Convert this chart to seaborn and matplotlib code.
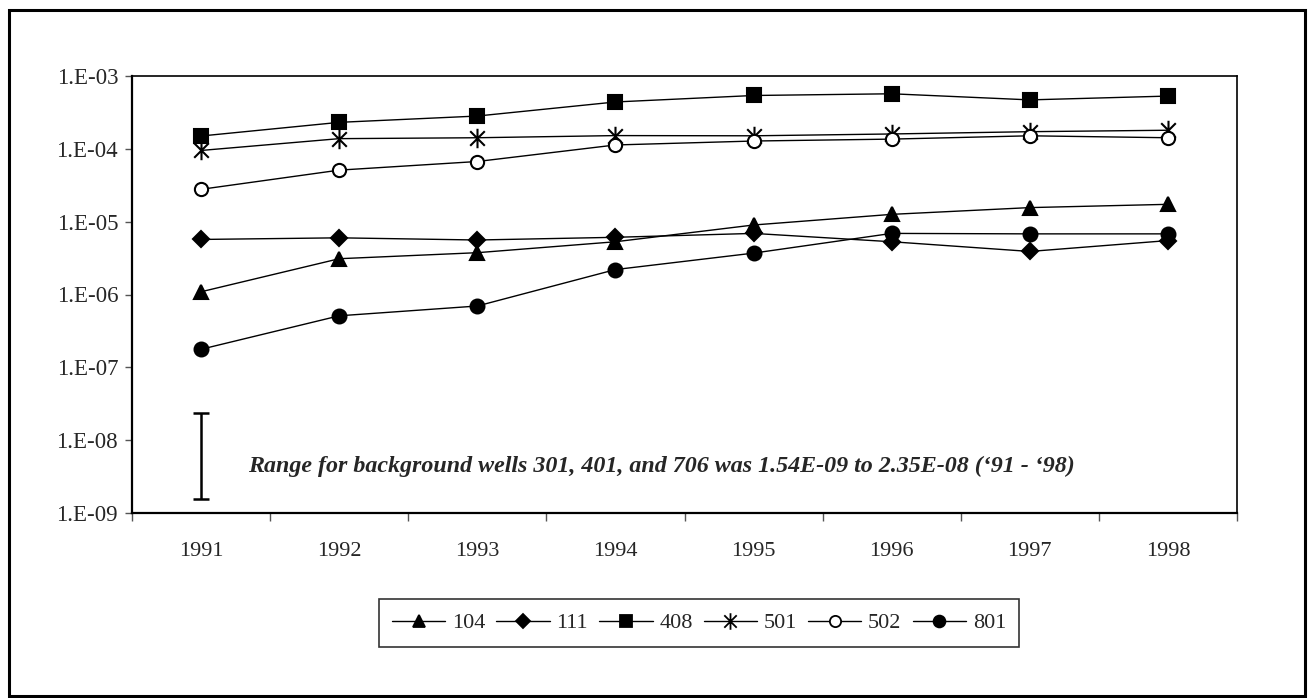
import numpy as np
import pandas as pd
import matplotlib
matplotlib.use("Agg")
import matplotlib.pyplot as plt
from matplotlib.patches import Rectangle
from matplotlib.lines import Line2D
from matplotlib.path import Path
from matplotlib import transforms
import seaborn as sns

# ---------------- DATA ---------------- #
years = [1991, 1992, 1993, 1994, 1995, 1996, 1997, 1998]
wells = ["104", "111", "408", "501", "502", "801"]

w104 = [1.09e-6, 3.1e-6, 3.75e-6, 5.3e-6, 9.0e-6, 1.26e-5, 1.56e-5, 1.73e-5]
w111 = [5.7e-6, 6.0e-6, 5.6e-6, 6.1e-6, 6.9e-6, 5.3e-6, 3.9e-6, 5.5e-6]
w408 = [1.5e-4, 2.31e-4, 2.82e-4, 4.4e-4, 5.4e-4, 5.7e-4, 4.7e-4, 5.3e-4]
w501 = [9.5e-5, 1.38e-4, 1.42e-4, 1.52e-4, 1.51e-4, 1.6e-4, 1.72e-4, 1.8e-4]
w502 = [2.78e-5, 5.1e-5, 6.7e-5, 1.13e-4, 1.28e-4, 1.36e-4, 1.51e-4, 1.42e-4]
w801 = [1.77e-7, 5.1e-7, 6.95e-7, 2.2e-6, 3.7e-6, 6.9e-6, 6.8e-6, 6.8e-6]

bg_low, bg_high = 1.54e-9, 2.35e-8
y_ticks = [1e-9, 1e-8, 1e-7, 1e-6, 1e-5, 1e-4, 1e-3]
y_labels = ["1.E-09", "1.E-08", "1.E-07", "1.E-06", "1.E-05", "1.E-04", "1.E-03"]

series = {"104": w104, "111": w111, "408": w408, "501": w501, "502": w502, "801": w801}
df = pd.DataFrame([
    {"pos": i, "year": y, "well": w, "value": v}
    for w in wells for i, (y, v) in enumerate(zip(years, series[w]))
])

# ---------------- STYLE ---------------- #
sns.set_style("white")
plt.rcParams["font.family"] = ["Liberation Serif", "DejaVu Serif"]

# asterisk: an X with a vertical stroke through it
star = Path([(0, -1), (0, 1), (-0.75, -0.75), (0.75, 0.75), (-0.75, 0.75), (0.75, -0.75)],
            [Path.MOVETO, Path.LINETO] * 3)

markers = {"104": "^", "111": "D", "408": "s", "501": star, "502": "o", "801": "o"}
msizes = {"104": 10, "111": 8, "408": 9.5, "501": 14, "502": 9.5, "801": 10}
faces = {"104": "black", "111": "black", "408": "black", "501": "black",
         "502": "white", "801": "black"}

fig = plt.figure(figsize=(13.08, 6.98), dpi=100)
ax = fig.add_axes([132 / 1308, 1 - 513 / 698, 1105 / 1308, 437 / 698])

for w in wells:
    sub = df[df["well"] == w]
    sns.lineplot(data=sub, x="pos", y="value", ax=ax, color="black",
                 linewidth=1.0, marker=markers[w], markersize=msizes[w],
                 markerfacecolor=faces[w], markeredgecolor="black",
                 markeredgewidth=1.5, legend=False)

# background wells range
mid = np.sqrt(bg_low * bg_high)
ax.errorbar([0], [mid], yerr=[[mid - bg_low], [bg_high - mid]], fmt="none",
            ecolor="black", elinewidth=1.8, capsize=6, capthick=1.8)
trans = transforms.blended_transform_factory(ax.transAxes, ax.transData)
ax.text(0.105, 4.3e-9,
        "Range for background wells 301, 401, and 706 was 1.54E-09 to 2.35E-08 (\u201891 - \u201898)",
        transform=trans, fontsize=17.3, fontweight="bold", fontstyle="italic",
        va="center", ha="left")

ax.set_yscale("log")
ax.set_ylim(1e-9, 1e-3)
ax.set_xlim(-0.5, len(years) - 0.5)
ax.set_yticks(y_ticks)
ax.set_yticklabels(y_labels)
ax.yaxis.set_minor_locator(matplotlib.ticker.NullLocator())

ax.set_xticks(np.arange(len(years) + 1) - 0.5)
ax.set_xticklabels([])
ax.set_xticks(np.arange(len(years)), minor=True)
ax.set_xticklabels([str(y) for y in years], minor=True)
ax.tick_params(axis="x", which="major", bottom=True, direction="out", length=6,
               width=1, color="#555555")
ax.tick_params(axis="x", which="minor", bottom=True, length=0, pad=21, labelsize=16)
ax.tick_params(axis="y", which="major", left=True, direction="out", length=5,
               width=1, color="#555555", labelsize=16.5, pad=5)
ax.set_xlabel("")
ax.set_ylabel("")

for side in ["left", "bottom"]:
    ax.spines[side].set_linewidth(1.6)
for side in ["top", "right"]:
    ax.spines[side].set_linewidth(1.2)
for s in ax.spines.values():
    s.set_color("black")

# legend
handles = [Line2D([0], [0], color="black", linewidth=1.0, marker=markers[w],
                  markersize=msizes[w] * 0.85, markerfacecolor=faces[w],
                  markeredgecolor="black", markeredgewidth=1.3) for w in wells]
leg = fig.legend(handles, wells, loc="center", bbox_to_anchor=(699 / 1308, 1 - 623 / 698),
                 ncol=6, frameon=True, fancybox=False, edgecolor="black",
                 fontsize=16, handlelength=2.4, handletextpad=0.3, columnspacing=0.5,
                 borderpad=0.6)
leg.get_frame().set_linewidth(1.2)

# outer frame
fig.patches.append(Rectangle((9 / 1308, 2 / 698), 1296 / 1308, 686 / 698,
                             transform=fig.transFigure, fill=False,
                             edgecolor="black", linewidth=2.2))

fig.savefig("out.png", dpi=100)
